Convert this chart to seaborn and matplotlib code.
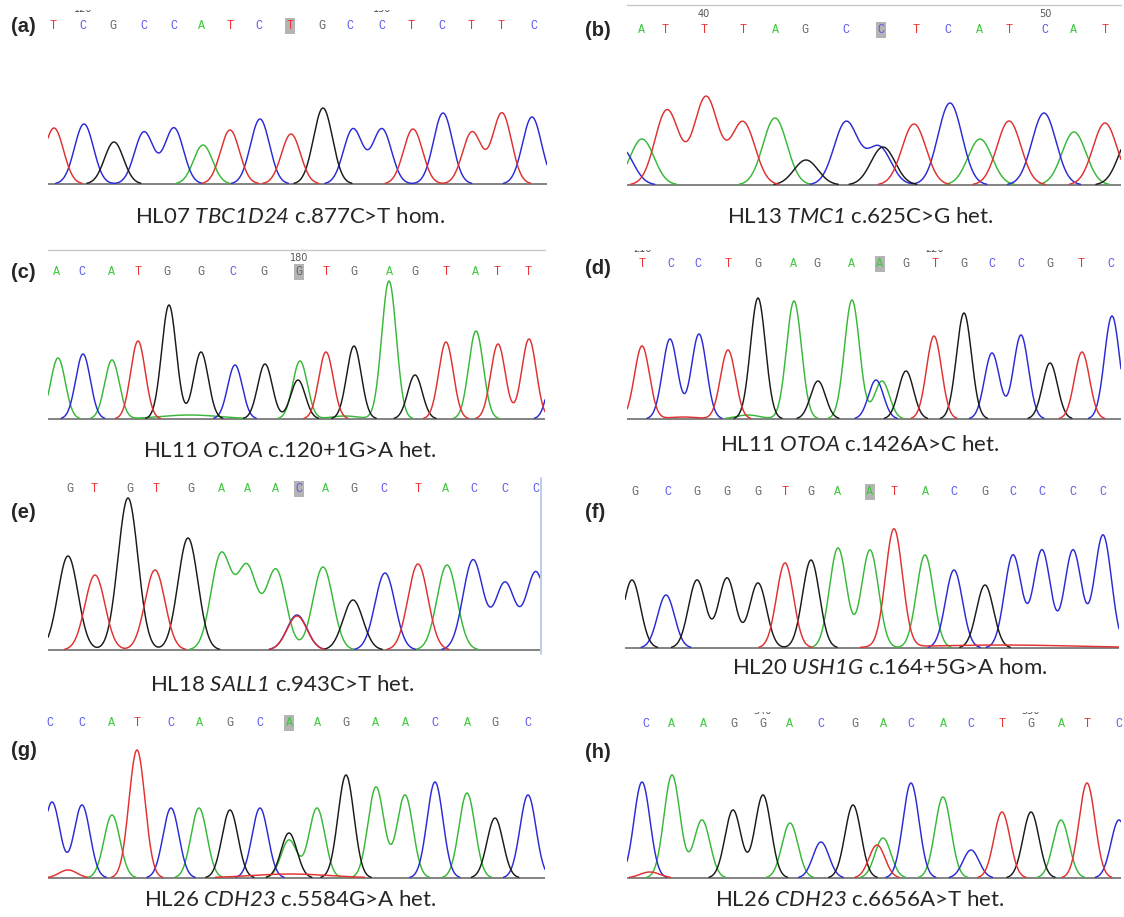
import numpy as np
import pandas as pd
import matplotlib
matplotlib.use("Agg")
import matplotlib.pyplot as plt
import seaborn as sns

# ---------------- values ----------------
# (a) HL07 TBC1D24
a_calls = "TCGCCATCTGCCTCTTC"
a_call_pos = [53, 83, 113, 144, 174, 202, 230, 259, 290, 322, 350, 382, 411, 442, 471, 501, 534]
a_peak_base = "TCGCCATCTGCCTCTTC"
a_peak_pos = [54, 84, 114, 144, 174, 203, 230, 260, 291, 323, 353, 382, 413, 443, 472, 502, 532]
a_peak_height = [56, 60, 42, 52, 56, 39, 54, 65, 50, 76, 55, 55, 55, 71, 52, 71, 67]
a_ruler = ["120", "130"]
a_ruler_pos = [83, 382]

# (b) HL13 TMC1
b_calls = "ATTTAGCCTCATCAT"
b_call_pos = [642, 665, 704, 743, 775, 805, 846, 881, 916, 948, 980, 1009, 1045, 1074, 1105]
b_peak_base = "CATTTAGCCGTCATCATG"
b_peak_pos = [621, 642, 667, 706, 743, 775, 806, 846, 879, 883, 914, 950, 980, 1009, 1044, 1074, 1105, 1131]
b_peak_height = [37, 46, 75, 88, 63, 67, 25, 63, 38, 38, 61, 82, 46, 64, 72, 53, 62, 50]
b_ruler = ["40", "50"]
b_ruler_pos = [704, 1045]

# (c) HL11 OTOA c.120+1G>A
c_calls = "ACATGGCGGTGAGTATT"
c_call_pos = [57, 82, 112, 138, 167, 201, 233, 264, 299, 326, 354, 390, 415, 446, 476, 497, 528]
c_peak_base = "ACATGGCGAGTGAGTATTC"
c_peak_pos = [58, 83, 112, 138, 169, 201, 235, 265, 300, 298, 326, 354, 389, 415, 446, 476, 498, 529, 556]
c_peak_height = [61, 65, 59, 78, 114, 67, 54, 55, 58, 39, 67, 73, 138, 44, 77, 88, 75, 80, 60]
c_hump_base = "AA"
c_hump_pos = [190, 345]
c_hump_height = [4, 3]
c_hump_width = [30, 14]
c_ruler = ["180"]
c_ruler_pos = [299]

# (d) HL11 OTOA c.1426A>C
d_calls = "TCCTGAGAAGTGCCGTC"
d_call_pos = [642, 671, 698, 728, 758, 793, 817, 852, 880, 906, 935, 964, 992, 1021, 1050, 1081, 1111]
d_peak_base = "TCCTGAGACAGTGCCGTC"
d_peak_pos = [642, 670, 699, 728, 758, 794, 818, 852, 876, 882, 906, 934, 964, 992, 1021, 1050, 1082, 1112]
d_peak_height = [73, 80, 85, 69, 121, 118, 38, 119, 39, 38, 48, 83, 106, 66, 84, 56, 67, 103]
d_hump_base = "AT"
d_hump_pos = [748, 683]
d_hump_height = [4, 2]
d_hump_width = [12, 15]
d_ruler = ["210", "220"]
d_ruler_pos = [642, 935]

# (e) HL18 SALL1
e_calls = "GTGTGAAACAGCTACCC"
e_call_pos = [70, 94, 130, 156, 191, 221, 247, 276, 299, 325, 354, 384, 418, 446, 474, 505, 536]
e_peak_base = "GTGTGAAACTAGCTACCC"
e_peak_pos = [68, 95, 128, 155, 188, 221, 247, 276, 297, 297, 323, 353, 385, 418, 447, 473, 505, 536]
e_peak_height = [94, 75, 152, 80, 112, 95, 82, 80, 35, 34, 83, 50, 77, 86, 85, 90, 67, 78]

# (f) HL20 USH1G
f_calls = "GCGGGTGAATACGCCCC"
f_call_pos = [635, 668, 697, 727, 758, 785, 811, 838, 870, 894, 925, 954, 985, 1013, 1042, 1073, 1103]
f_peak_base = "GCGGGTGAATACGCCCC"
f_peak_pos = [632, 666, 697, 727, 758, 785, 811, 838, 870, 894, 925, 954, 985, 1013, 1042, 1073, 1103]
f_peak_height = [68, 53, 68, 70, 65, 85, 88, 100, 98, 118, 93, 78, 63, 93, 98, 98, 113]
f_hump_base = "T"
f_hump_pos = [1000]
f_hump_height = [3]
f_hump_width = [80]

# (g) HL26 CDH23 c.5584G>A
g_calls = "CCATCAGCAAGAACAGC"
g_call_pos = [50, 82, 112, 137, 171, 199, 230, 260, 289, 317, 346, 376, 405, 435, 467, 495, 528]
g_peak_base = "CCATCAGCGAAGAACAGC"
g_peak_pos = [52, 82, 112, 137, 171, 199, 230, 260, 289, 289, 317, 346, 376, 405, 435, 467, 495, 528]
g_peak_height = [76, 73, 63, 128, 70, 70, 68, 70, 45, 38, 70, 103, 91, 83, 96, 85, 60, 83]
g_hump_base = "TT"
g_hump_pos = [68, 290]
g_hump_height = [8, 4]
g_hump_width = [9, 40]

# (h) HL26 CDH23 c.6656A>T
h_calls = "CAAGGACGACACTGATC"
h_call_pos = [646, 672, 704, 734, 763, 790, 821, 855, 883, 911, 943, 971, 1002, 1031, 1061, 1087, 1119]
h_peak_base = "CAAGGACGTACACTGATC"
h_peak_pos = [642, 672, 702, 733, 763, 790, 821, 853, 877, 883, 911, 943, 971, 1002, 1031, 1061, 1087, 1119]
h_peak_height = [96, 103, 58, 68, 83, 55, 36, 73, 33, 40, 95, 81, 28, 66, 66, 58, 95, 58]
h_hump_base = "T"
h_hump_pos = [650]
h_hump_height = [6]
h_hump_width = [10]
h_ruler = ["340", "350"]
h_ruler_pos = [763, 1031]

captions = [
    r"HL07 $\mathit{TBC1D24}$ c.877C>T hom.",
    r"HL13 $\mathit{TMC1}$ c.625C>G het.",
    r"HL11 $\mathit{OTOA}$ c.120+1G>A het.",
    r"HL11 $\mathit{OTOA}$ c.1426A>C het.",
    r"HL18 $\mathit{SALL1}$ c.943C>T het.",
    r"HL20 $\mathit{USH1G}$ c.164+5G>A hom.",
    r"HL26 $\mathit{CDH23}$ c.5584G>A het.",
    r"HL26 $\mathit{CDH23}$ c.6656A>T het.",
]
panel_labels = ["(a)", "(b)", "(c)", "(d)", "(e)", "(f)", "(g)", "(h)"]

# ---------------- styling / layout ----------------
sns.set_theme(style="white")
plt.rcParams['font.family'] = ['Lato', 'DejaVu Sans']
plt.rcParams['mathtext.fontset'] = 'custom'
plt.rcParams['mathtext.rm'] = 'Lato:italic'
plt.rcParams['mathtext.it'] = 'Lato:italic'

trace_colors = {"A": "#38b838", "C": "#2a2ad6", "G": "#1a1a1a", "T": "#e0302f"}
letter_colors = {"A": "#3fc83f", "C": "#5a5aee", "G": "#666666", "T": "#ee3333"}

W, H = 1124, 917
fig = plt.figure(figsize=(W / 100, H / 100), dpi=100)

panels = [
    dict(calls=a_calls, call_pos=a_call_pos, pb=a_peak_base, pp=a_peak_pos, ph=a_peak_height,
         x0=48, x1=547, base=184, ly=26, top=10, sigma=9.5, hl=8,
         ruler=a_ruler, ruler_pos=a_ruler_pos, ruler_y=9,
         label=(23, 27), cap=(290, 217)),
    dict(calls=b_calls, call_pos=b_call_pos, pb=b_peak_base, pp=b_peak_pos, ph=b_peak_height,
         x0=627, x1=1121, base=185, ly=30, top=2, sigma=12, hl=7,
         ruler=b_ruler, ruler_pos=b_ruler_pos, ruler_y=14, topline=5,
         label=(598, 31), cap=(860, 217)),
    dict(calls=c_calls, call_pos=c_call_pos, pb=c_peak_base, pp=c_peak_pos, ph=c_peak_height,
         hb=c_hump_base, hp=c_hump_pos, hh=c_hump_height, hw=c_hump_width,
         x0=48, x1=545, base=419, ly=272, top=246, sigma=7.3, hl=8,
         ruler=c_ruler, ruler_pos=c_ruler_pos, ruler_y=258, topline=250,
         label=(23, 272), cap=(290, 451)),
    dict(calls=d_calls, call_pos=d_call_pos, pb=d_peak_base, pp=d_peak_pos, ph=d_peak_height,
         hb=d_hump_base, hp=d_hump_pos, hh=d_hump_height, hw=d_hump_width,
         x0=627, x1=1121, base=419, ly=264, top=250, sigma=7.5, hl=8,
         ruler=d_ruler, ruler_pos=d_ruler_pos, ruler_y=249,
         label=(598, 269), cap=(860, 445)),
    dict(calls=e_calls, call_pos=e_call_pos, pb=e_peak_base, pp=e_peak_pos, ph=e_peak_height,
         x0=48, x1=540, base=650, ly=489, top=478, sigma=10, hl=8, vline=True,
         label=(23, 513), cap=(282, 685)),
    dict(calls=f_calls, call_pos=f_call_pos, pb=f_peak_base, pp=f_peak_pos, ph=f_peak_height,
         hb=f_hump_base, hp=f_hump_pos, hh=f_hump_height, hw=f_hump_width,
         x0=625, x1=1119, base=648, ly=492, top=478, sigma=8.5, hl=8,
         label=(595, 513), cap=(890, 668)),
    dict(calls=g_calls, call_pos=g_call_pos, pb=g_peak_base, pp=g_peak_pos, ph=g_peak_height,
         hb=g_hump_base, hp=g_hump_pos, hh=g_hump_height, hw=g_hump_width,
         x0=48, x1=545, base=878, ly=723, top=710, sigma=8, hl=8,
         label=(24, 750), cap=(290, 900)),
    dict(calls=h_calls, call_pos=h_call_pos, pb=h_peak_base, pp=h_peak_pos, ph=h_peak_height,
         hb=h_hump_base, hp=h_hump_pos, hh=h_hump_height, hw=h_hump_width,
         x0=627, x1=1121, base=878, ly=724, top=712, sigma=8, hl=None,
         ruler=h_ruler, ruler_pos=h_ruler_pos, ruler_y=711,
         label=(598, 752), cap=(860, 900)),
]


def trace_frame(p):
    xs = np.linspace(p["x0"], p["x1"], 1500)
    frames = []
    humps = list(zip(p.get("hb", ""), p.get("hp", []), p.get("hh", []), p.get("hw", [])))
    for base in "ACGT":
        sig = np.zeros_like(xs)
        for b, c, h in zip(p["pb"], p["pp"], p["ph"]):
            if b == base:
                sig += h * np.exp(-0.5 * ((xs - c) / p["sigma"]) ** 2)
        for b, c, h, w in humps:
            if b == base:
                sig += h * np.exp(-0.5 * ((xs - c) / w) ** 2)
        on = sig > 0.7
        run = np.cumsum(np.r_[True, on[1:] != on[:-1]])
        df = pd.DataFrame({"x": xs, "signal": sig, "base": base,
                           "seg": [f"{base}{r}" for r in run]})
        frames.append(df[on])
    return pd.concat(frames, ignore_index=True)


for i, p in enumerate(panels):
    bottom = p["base"] + 4
    top = p["top"]
    ax = fig.add_axes([p["x0"] / W, 1 - bottom / H, (p["x1"] - p["x0"]) / W, (bottom - top) / H])
    ax.set_xlim(p["x0"], p["x1"])
    ax.set_ylim(-(bottom - p["base"]), p["base"] - top)
    ax.axis("off")

    ax.axhline(0, color="#7a7a7a", lw=1.3, zorder=1)
    df = trace_frame(p)
    sns.lineplot(data=df, x="x", y="signal", hue="base", units="seg", estimator=None,
                 palette=trace_colors, hue_order=["A", "C", "G", "T"], sort=False,
                 legend=False, linewidth=1.05, ax=ax, zorder=2)

    ly = p["base"] - p["ly"]
    for k, (ch, cx) in enumerate(zip(p["calls"], p["call_pos"])):
        kw = {}
        if p["hl"] is not None and k == p["hl"]:
            kw["bbox"] = dict(boxstyle="square,pad=0.15", fc="#b4b4b4", ec="none")
        ax.text(cx, ly, ch, ha="center", va="center", color=letter_colors[ch],
                fontsize=8.5, family="Liberation Mono", clip_on=False, **kw)

    if "ruler" in p:
        ry = p["base"] - p["ruler_y"]
        for lab, rx in zip(p["ruler"], p["ruler_pos"]):
            ax.text(rx, ry, lab, ha="center", va="center", color="#555555",
                    fontsize=7, family="DejaVu Sans", clip_on=True)
    if "topline" in p:
        ax.axhline(p["base"] - p["topline"], color="#c8c8c8", lw=1.0, zorder=0, clip_on=False)
    if p.get("vline"):
        ax.axvline(p["x1"] + 1, color="#a9c6e6", lw=1.2, clip_on=False)

    lx, lyy = p["label"]
    fig.text(lx / W, 1 - lyy / H, panel_labels[i], ha="center", va="center",
             fontsize=14.5, fontweight="bold", family="Liberation Sans")
    cx, cy = p["cap"]
    fig.text(cx / W, 1 - cy / H, captions[i], ha="center", va="center", fontsize=16)

fig.savefig("out.png", dpi=100, facecolor="white")
